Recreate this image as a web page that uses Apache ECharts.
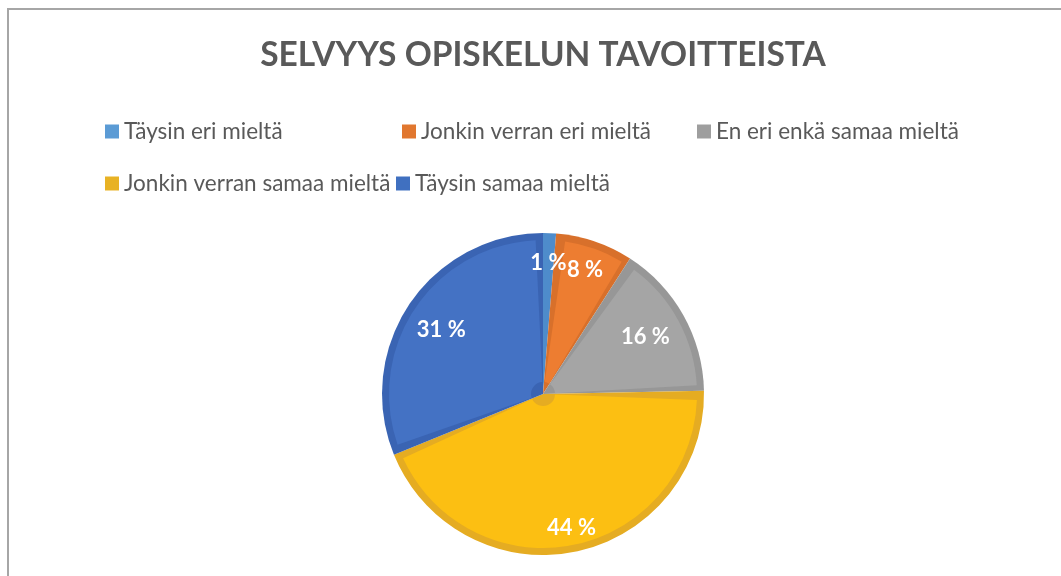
<!DOCTYPE html>
<html>
<head>
<meta charset="utf-8">
<script src="https://cdn.jsdelivr.net/npm/echarts@6/dist/echarts.min.js"></script>
<style>
html,body{margin:0;padding:0;background:#fff;}
#chart{width:1061px;height:576px;}
</style>
</head>
<body>
<div id="chart"></div>
<script>
const titleText = 'SELVYYS OPISKELUN TAVOITTEISTA';
const categories = ['Täysin eri mieltä', 'Jonkin verran eri mieltä', 'En eri enkä samaa mieltä', 'Jonkin verran samaa mieltä', 'Täysin samaa mieltä'];
const values = [1, 6, 12, 34, 24];
const fillColors = ['#5B9BD5', '#ED7D31', '#A5A5A5', '#FCBF12', '#4472C4'];
const bandColors = ['#4E8CCB', '#D8702B', '#979797', '#E5AC22', '#3A64B3'];
const legendColors = ['#5B9BD5', '#E1772F', '#9E9E9E', '#E8B224', '#4070C0'];

const chart = echarts.init(document.getElementById('chart'), null, {renderer: 'canvas'});
const center = [543, 394];
const textColor = '#595959';
const legendPos = [[105, 120], [402, 120], [697, 120], [105, 172], [396, 172]];
const labelShift = [[0, 0], [0, 0], [-12, 7], [2, 6], [7, 9]];

const legends = categories.map((c, i) => ({
  show: true,
  left: legendPos[i][0],
  top: legendPos[i][1],
  padding: 0,
  orient: 'horizontal',
  selectedMode: false,
  icon: 'rect',
  itemWidth: 14,
  itemHeight: 14,
  textStyle: {color: textColor, fontSize: 22.5, fontFamily: 'Lato', lineHeight: 22},
  data: [{name: c, itemStyle: {color: legendColors[i]}}]
}));

const base = {
  type: 'pie',
  center: center,
  startAngle: 90,
  clockwise: true,
  silent: true,
  animation: false,
  emphasis: {disabled: true},
  labelLine: {show: false}
};

const option = {
  animation: false,
  graphic: [
    {type: 'line', shape: {x1: 7, y1: 9, x2: 1061, y2: 9}, style: {stroke: '#A6A6A6', lineWidth: 2}},
    {type: 'line', shape: {x1: 8, y1: 9, x2: 8, y2: 576}, style: {stroke: '#A6A6A6', lineWidth: 2}},
    {type: 'text', x: 543, y: 55, style: {text: titleText, align: 'center', verticalAlign: 'middle', fill: textColor, font: 'bold 33.5px Lato'}}
  ],
  legend: legends,
  series: [
    Object.assign({}, base, {
      name: 'base',
      radius: [0, 161],
      label: {show: false},
      data: categories.map((c, i) => ({name: c, value: values[i], itemStyle: {color: bandColors[i]}}))
    }),
    Object.assign({}, base, {
      name: 'fill',
      radius: [12, 154],
      padAngle: 5.5,
      label: {show: false},
      data: categories.map((c, i) => ({name: c, value: values[i], itemStyle: {color: fillColors[i]}}))
    }),
    Object.assign({}, base, {
      name: 'labels',
      radius: [95, 161],
      itemStyle: {color: 'rgba(0,0,0,0)'},
      label: {
        show: true,
        position: 'inside',
        color: '#FFFFFF',
        fontSize: 22,
        fontWeight: 'bold',
        fontFamily: 'Lato',
        formatter: p => Math.round(p.percent) + ' %'
      },
      data: categories.map((c, i) => ({name: c, value: values[i], label: {offset: labelShift[i]}}))
    })
  ]
};
chart.setOption(option);
</script>
</body>
</html>
